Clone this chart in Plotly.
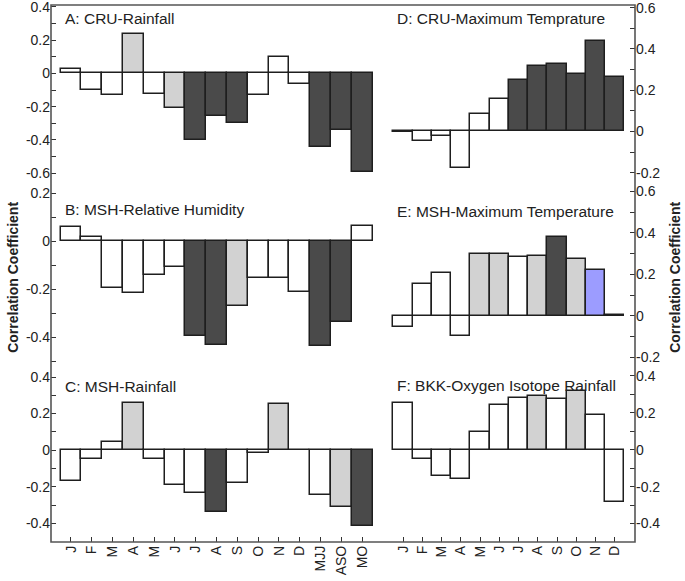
import plotly.graph_objects as go
from plotly.subplots import make_subplots

# categories
months_long = ["J", "F", "M", "A", "M", "J", "J", "A", "S", "O", "N", "D", "MJJ", "ASO", "MO"]
months = ["J", "F", "M", "A", "M", "J", "J", "A", "S", "O", "N", "D"]

# correlation coefficients
cru_rain = [0.028, -0.10, -0.13, 0.24, -0.125, -0.21, -0.40, -0.255, -0.30, -0.13, 0.10, -0.065, -0.44, -0.34, -0.59]
msh_rh = [0.059, 0.018, -0.197, -0.217, -0.14, -0.106, -0.397, -0.434, -0.269, -0.155, -0.155, -0.213, -0.435, -0.336, 0.065]
msh_rain = [-0.167, -0.051, 0.045, 0.26, -0.047, -0.189, -0.235, -0.34, -0.18, -0.015, 0.25, 0.003, -0.245, -0.31, -0.416]
cru_tmax = [-0.005, -0.048, -0.02, -0.176, 0.083, 0.157, 0.25, 0.315, 0.326, 0.278, 0.437, 0.262]
msh_tmax = [-0.056, 0.153, 0.208, -0.097, 0.298, 0.298, 0.282, 0.29, 0.382, 0.274, 0.221, 0.004]
bkk_o18 = [0.251, -0.049, -0.14, -0.158, 0.096, 0.242, 0.278, 0.291, 0.275, 0.32, 0.187, -0.285]

# significance class of each bar: n = not significant, w = weak, s = strong, b = other
cru_rain_sig = ["n", "n", "n", "w", "n", "w", "s", "s", "s", "n", "n", "n", "s", "s", "s"]
msh_rh_sig = ["n", "n", "n", "n", "n", "n", "s", "s", "w", "n", "n", "n", "s", "s", "n"]
msh_rain_sig = ["n", "n", "n", "w", "n", "n", "n", "s", "n", "n", "w", "n", "n", "w", "s"]
cru_tmax_sig = ["n", "n", "n", "n", "n", "n", "s", "s", "s", "s", "s", "s"]
msh_tmax_sig = ["n", "n", "n", "n", "w", "w", "n", "w", "s", "w", "b", "n"]
bkk_o18_sig = ["n", "n", "n", "n", "n", "n", "n", "w", "n", "w", "n", "n"]

titles = ["A: CRU-Rainfall", "D: CRU-Maximum Temprature",
          "B: MSH-Relative Humidity", "E: MSH-Maximum Temperature",
          "C: MSH-Rainfall", "F: BKK-Oxygen Isotope Rainfall"]

colors = {"n": "white", "w": "#d2d2d2", "s": "#4a4a4a", "b": "#9c9cff"}
font = "Liberation Sans, Arial, sans-serif"

panels = [
    (1, 1, months_long, cru_rain, cru_rain_sig, [-0.659, 0.412], [-0.6, -0.4, -0.2, 0, 0.2, 0.4]),
    (1, 2, months, cru_tmax, cru_tmax_sig, [-0.25, 0.613], [-0.2, 0, 0.2, 0.4, 0.6]),
    (2, 1, months_long, msh_rh, msh_rh_sig, [-0.52, 0.242], [-0.4, -0.2, 0, 0.2]),
    (2, 2, months, msh_tmax, msh_tmax_sig, [-0.242, 0.64], [-0.2, 0, 0.2, 0.4, 0.6]),
    (3, 1, months_long, msh_rain, msh_rain_sig, [-0.502, 0.46], [-0.4, -0.2, 0, 0.2, 0.4]),
    (3, 2, months, bkk_o18, bkk_o18_sig, [-0.5, 0.454], [-0.4, -0.2, 0, 0.2, 0.4]),
]

fig = make_subplots(rows=3, cols=2, horizontal_spacing=0, vertical_spacing=0)

x_dom = {1: [0, 0.5685], 2: [0.5685, 1]}
y_dom = {1: [0.6685, 1], 2: [0.3277, 0.6685], 3: [0, 0.3277]}
x_rng = {1: [-0.96, 15.0], 2: [-1.04, 12.05]}
title_y = [0.925, 0.925, 0.858, 0.843, 0.886, 0.892]

for k, (r, c, cats, vals, sig, yr, yt) in enumerate(panels):
    xs = list(range(len(cats)))
    fig.add_trace(go.Bar(
        x=xs, y=vals, width=1,
        marker=dict(color=[colors[s] for s in sig], line=dict(color="#1e1e1e", width=1.5)),
        showlegend=False, hoverinfo="y",
    ), row=r, col=c)
    fig.update_xaxes(
        domain=x_dom[c], range=x_rng[c], showgrid=False, zeroline=False, showline=False,
        automargin=False, ticklabeloverflow="allow",
        tickmode="array", tickvals=xs, ticktext=cats,
        ticks="inside" if r == 3 else "", ticklen=5, tickwidth=1.3, tickcolor="#333",
        showticklabels=(r == 3), tickangle=-90,
        tickfont=dict(family=font, size=14, color="#222"),
        row=r, col=c,
    )
    minor_vals = [round(v / 10, 1) for v in range(int(round(yr[0] * 10)), int(round(yr[1] * 10)) + 1)]
    fig.update_yaxes(
        domain=y_dom[r], range=yr, showgrid=False, zeroline=False, showline=False,
        automargin=False, ticklabeloverflow="allow",
        side="left" if c == 1 else "right",
        tickmode="array", tickvals=yt, ticktext=[f"{v:g}" for v in yt],
        ticks="inside", ticklen=5, tickwidth=1.3, tickcolor="#333",
        minor=dict(tickmode="array", tickvals=minor_vals, ticks="inside", ticklen=5,
                   tickwidth=1.3, tickcolor="#333"),
        tickfont=dict(family=font, size=14, color="#222"),
        row=r, col=c,
    )
    axn = "" if k == 0 else str(k + 1)
    ax_x = 0.036 if c == 1 else 0.048
    fig.add_annotation(
        text=titles[k], xref=f"x{axn} domain", yref=f"y{axn} domain",
        x=ax_x, y=title_y[k], xanchor="left", yanchor="middle", showarrow=False,
        font=dict(family=font, size=15.5, color="#222"),
    )

# outer frame
fig.add_shape(type="rect", xref="paper", yref="paper", x0=0, y0=0, x1=1, y1=1,
              line=dict(color="#555", width=1.6), layer="above")

for xpos in (-0.065, 1.0685):
    fig.add_annotation(
        text="<b>Correlation Coefficient</b>", xref="paper", yref="paper",
        x=xpos, y=0.492, xanchor="center", yanchor="middle", textangle=-90, showarrow=False,
        font=dict(family=font, size=14, color="#222"),
    )

fig.update_layout(
    width=685, height=581,
    margin=dict(l=51, r=50, t=5, b=39),
    plot_bgcolor="white", paper_bgcolor="white",
    bargap=0,
)

fig.write_html("out.html", config={"displayModeBar": False},
               post_script="document.body.style.margin='0';")
